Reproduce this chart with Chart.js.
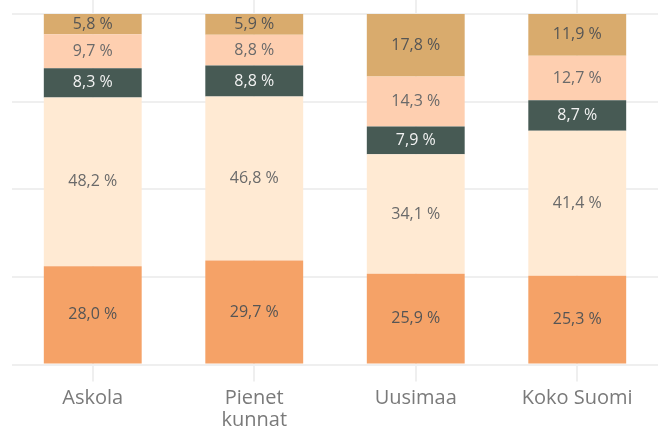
<!DOCTYPE html>
<html>
<head>
<meta charset="utf-8">
<script src="https://cdn.jsdelivr.net/npm/chart.js@4/dist/chart.umd.min.js"></script>
<style>
  html, body { margin: 0; padding: 0; background: #fff; }
  #wrap { width: 658px; height: 430px; }
</style>
</head>
<body>
<div id="wrap"><canvas id="barChart"></canvas></div>
<script>
const CATEGORIES = ['Askola', ['Pienet', 'kunnat'], 'Uusimaa', 'Koko Suomi'];

const SERIES_NAMES = ['Perusaste', 'Toinen aste', 'Alin korkea-aste', 'Alempi korkeakoulu', 'Ylempi korkeakoulu'];

const PERUSASTE = [28.0, 29.7, 25.9, 25.3];
const TOINEN_ASTE = [48.2, 46.8, 34.1, 41.4];
const ALIN_KORKEA = [8.3, 8.8, 7.9, 8.7];
const ALEMPI_KK = [9.7, 8.8, 14.3, 12.7];
const YLEMPI_KK = [5.8, 5.9, 17.8, 11.9];

const COLORS = ['#f5a267', '#ffead3', '#475a54', '#fecfb0', '#d9ab6d'];
const LABEL_COLORS = ['#555555', '#6a6a6a', '#f2f2f2', '#6a6a6a', '#555555'];

const FONT = '"Open Sans", Lato, sans-serif';

// values drawn in the middle of each segment
const segmentLabels = {
  id: 'segmentLabels',
  afterDatasetsDraw(chart) {
    const ctx = chart.ctx;
    ctx.save();
    ctx.font = '16px ' + FONT;
    ctx.textAlign = 'center';
    ctx.textBaseline = 'middle';
    chart.data.datasets.forEach((ds, i) => {
      const meta = chart.getDatasetMeta(i);
      meta.data.forEach((bar, j) => {
        const v = ds.data[j];
        const yMid = (bar.y + bar.base) / 2;
        ctx.fillStyle = LABEL_COLORS[i];
        ctx.fillText(v.toFixed(1).replace('.', ',') + ' %', bar.x, yMid);
      });
    });
    ctx.restore();
  }
};

const values = [PERUSASTE, TOINEN_ASTE, ALIN_KORKEA, ALEMPI_KK, YLEMPI_KK];

new Chart(document.getElementById('barChart').getContext('2d'), {
  type: 'bar',
  data: {
    labels: CATEGORIES,
    datasets: values.map((d, i) => ({
      label: SERIES_NAMES[i],
      data: d,
      backgroundColor: COLORS[i],
      borderWidth: 0,
      barPercentage: 0.606,
      categoryPercentage: 1.0
    }))
  },
  options: {
    responsive: true,
    maintainAspectRatio: false,
    animation: false,
    layout: { padding: { left: 12, right: 0, top: 0, bottom: 0 } },
    plugins: {
      legend: { display: false },
      tooltip: { enabled: false }
    },
    scales: {
      x: {
        stacked: true,
        grid: { color: '#efefef', lineWidth: 2, tickLength: 17, offset: false },
        border: { display: false },
        ticks: {
          color: '#7a7a7a',
          font: { family: FONT, size: 20, lineHeight: 1.1 },
          padding: 6,
          maxRotation: 0
        },
        afterFit(axis) { axis.height = 65.5; }
      },
      y: {
        stacked: true,
        min: 0,
        max: 104,
        afterBuildTicks(axis) {
          axis.ticks = [0, 25, 50, 75, 100].map(v => ({ value: v }));
        },
        grid: { color: '#efefef', lineWidth: 2, drawTicks: false },
        border: { display: false },
        ticks: { display: false }
      }
    }
  },
  plugins: [segmentLabels]
});
</script>
</body>
</html>
